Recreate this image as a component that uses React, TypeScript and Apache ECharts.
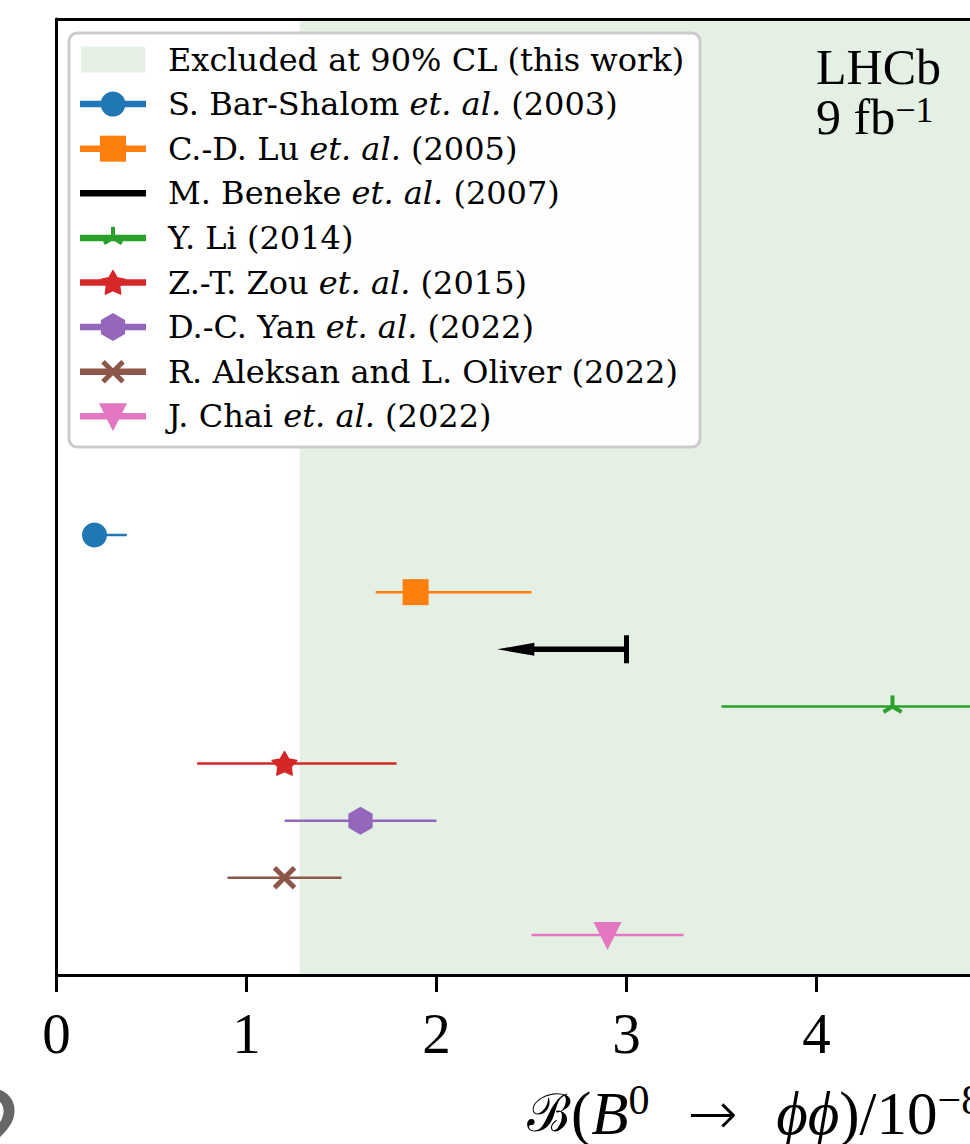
import React, { useEffect, useRef } from "react";
import * as echarts from "echarts";

// ---------- data ----------
const studyAuthors = [
  "S. Bar-Shalom",
  "C.-D. Lu",
  "M. Beneke",
  "Y. Li",
  "Z.-T. Zou",
  "D.-C. Yan",
  "R. Aleksan and L. Oliver",
  "J. Chai",
];
const studyEtAl = [true, true, true, false, true, true, false, true];
const studyYears = ["2003", "2005", "2007", "2014", "2015", "2022", "2022", "2022"];
// central value, lower edge, upper edge (units of 1e-8)
const centralValues = [0.2, 1.89, 3.0, 4.4, 1.2, 1.6, 1.2, 2.9];
const lowerEdges = [0.2, 1.68, 2.32, 3.5, 0.74, 1.2, 0.9, 2.5];
const upperEdges = [0.37, 2.5, 3.0, 5.3, 1.79, 2.0, 1.5, 3.3];
const isUpperLimit = [false, false, true, false, false, false, false, false];
const rowPositions = [8, 7, 6, 5, 4, 3, 2, 1];
const markerKinds = ["circle", "square", "none", "tri_up", "star", "hexagon", "x", "triangle_down"];
const studyColors = ["#1f77b4", "#ff7f0e", "#000000", "#2ca02c", "#d62728", "#9467bd", "#8c564b", "#e377c2"];

const excludedLabel = "Excluded at 90% CL (this work)";
const excludedFrom = 1.28;
const xMin = 0;
const xMax = 5;
const xInterval = 1;
const yMin = 0.3;
const yMax = 17.03;
const excludedColor = "#e4f0e3";

const studyNames = studyAuthors.map(
  (a, i) => `${a}${studyEtAl[i] ? " et. al." : ""} (${studyYears[i]})`
);
const studyRich = studyAuthors.map((a, i) =>
  studyEtAl[i] ? `{n|${a} }{i|et. al.}{n| (${studyYears[i]})}` : `{n|${a} (${studyYears[i]})}`
);

// ---------- helpers ----------
function markerShapes(kind: string, cx: number, cy: number, color: string, z = 0): any[] {
  const zz = z ? { z } : {};
  switch (kind) {
    case "circle":
      return [{ type: "circle", ...zz, shape: { cx, cy, r: 12.5 }, style: { fill: color } }];
    case "square":
      return [{ type: "rect", ...zz, shape: { x: cx - 13, y: cy - 13, width: 26, height: 26 }, style: { fill: color } }];
    case "hexagon": {
      const pts: number[][] = [];
      for (let k = 0; k < 6; k++) {
        const a = ((-90 + 60 * k) * Math.PI) / 180;
        pts.push([cx + 14 * Math.cos(a), cy + 14 * Math.sin(a)]);
      }
      return [{ type: "polygon", ...zz, shape: { points: pts }, style: { fill: color } }];
    }
    case "star": {
      const pts: number[][] = [];
      for (let k = 0; k < 10; k++) {
        const a = ((-90 + 36 * k) * Math.PI) / 180;
        const r = k % 2 === 0 ? 13 : 7;
        pts.push([cx + r * Math.cos(a), cy + 1 + r * Math.sin(a)]);
      }
      return [{ type: "polygon", ...zz, shape: { points: pts }, style: { fill: color, stroke: color, lineWidth: 1.5, lineJoin: "round" } }];
    }
    case "x":
      return [
        { type: "line", ...zz, shape: { x1: cx - 10, y1: cy - 10, x2: cx + 10, y2: cy + 10 }, style: { stroke: color, lineWidth: 5 } },
        { type: "line", ...zz, shape: { x1: cx - 10, y1: cy + 10, x2: cx + 10, y2: cy - 10 }, style: { stroke: color, lineWidth: 5 } },
      ];
    case "triangle_down":
      return [
        { type: "polygon", ...zz, shape: { points: [[cx - 14, cy - 13], [cx + 14, cy - 13], [cx, cy + 15]] }, style: { fill: color } },
      ];
    case "tri_up":
      return [
        { type: "line", ...zz, shape: { x1: cx, y1: cy, x2: cx, y2: cy - 11 }, style: { stroke: color, lineWidth: 4 } },
        { type: "line", ...zz, shape: { x1: cx, y1: cy, x2: cx - 9, y2: cy + 5.5 }, style: { stroke: color, lineWidth: 4 } },
        { type: "line", ...zz, shape: { x1: cx, y1: cy, x2: cx + 9, y2: cy + 5.5 }, style: { stroke: color, lineWidth: 4 } },
      ];
    default:
      return [];
  }
}

const serif = "Liberation Serif";
const legendFont = "DejaVu Serif";
const TOP = 100;

export default function App() {
  const ref = useRef<HTMLDivElement>(null);

  useEffect(() => {
    if (!ref.current) return;
    const chart = echarts.init(ref.current, null, { renderer: "svg" });

    const studySeries = studyNames.map((name, i) => ({
      type: "custom",
      name,
      z: 3,
      xAxisIndex: 0,
      yAxisIndex: 0,
      itemStyle: { color: studyColors[i] },
      encode: { x: [0, 1, 2], y: 3 },
      data: [[centralValues[i], lowerEdges[i], upperEdges[i], rowPositions[i]]],
      renderItem: (params: any, api: any) => {
        const yv = api.value(3);
        const pc = api.coord([api.value(0), yv]);
        const pl = api.coord([api.value(1), yv]);
        const ph = api.coord([api.value(2), yv]);
        const c = studyColors[i];
        const children: any[] = [];
        if (isUpperLimit[i]) {
          children.push({ type: "line", shape: { x1: pl[0] + 30, y1: pc[1], x2: ph[0], y2: pc[1] }, style: { stroke: c, lineWidth: 5.5 } });
          children.push({
            type: "polygon",
            shape: { points: [[pl[0], pc[1]], [pl[0] + 37, pc[1] - 6.5], [pl[0] + 37, pc[1] + 6.5]] },
            style: { fill: c },
          });
          children.push({ type: "line", shape: { x1: ph[0], y1: pc[1] - 14, x2: ph[0], y2: pc[1] + 14 }, style: { stroke: c, lineWidth: 5 } });
        } else {
          children.push({ type: "line", shape: { x1: pl[0], y1: pc[1], x2: ph[0], y2: pc[1] }, style: { stroke: c, lineWidth: 2.5 } });
          children.push(...markerShapes(markerKinds[i], pc[0], pc[1], c));
        }
        return { type: "group", children };
      },
    }));

    const excludedSeries = {
      type: "custom",
      name: excludedLabel,
      z: 1,
      itemStyle: { color: excludedColor },
      encode: { x: [0, 1] },
      data: [[excludedFrom, xMax]],
      renderItem: (params: any, api: any) => {
        const p0 = api.coord([api.value(0), yMax]);
        const p1 = api.coord([api.value(1), yMin]);
        return {
          type: "rect",
          shape: { x: p0[0], y: p0[1], width: p1[0] - p0[0], height: p1[1] - p0[1] },
          style: { fill: excludedColor },
        };
      },
    };

    // legend drawn as graphic (matplotlib-style handles)
    const legendChildren: any[] = [
      {
        type: "rect",
        z: TOP,
        shape: { x: 69, y: 33, width: 631, height: 414, r: 8 },
        style: { fill: "rgba(255,255,255,0.92)", stroke: "#cccccc", lineWidth: 3 },
      },
    ];
    const rowY = (k: number) => 59.5 + k * 44.6;
    const richStyles = {
      n: { fontFamily: legendFont, fontSize: 32, fill: "#000" },
      i: { fontFamily: legendFont, fontSize: 32, fontStyle: "italic", fill: "#000" },
    };
    legendChildren.push({
      type: "rect",
      z: TOP + 1,
      shape: { x: 81, y: rowY(0) - 13, width: 64, height: 26 },
      style: { fill: excludedColor },
    });
    legendChildren.push({
      type: "text",
      z: TOP + 1,
      x: 168,
      y: rowY(0),
      style: { text: `{n|${excludedLabel}}`, rich: richStyles, verticalAlign: "middle", align: "left" },
    });
    studyNames.forEach((_, i) => {
      const y = rowY(i + 1);
      const c = studyColors[i];
      legendChildren.push({ type: "line", z: TOP + 1, shape: { x1: 80, y1: y, x2: 146, y2: y }, style: { stroke: c, lineWidth: 6.5 } });
      legendChildren.push(...markerShapes(markerKinds[i], 113, y, c, TOP + 2));
      legendChildren.push({
        type: "text",
        z: TOP + 1,
        x: 168,
        y,
        style: { text: studyRich[i], rich: richStyles, verticalAlign: "middle", align: "left" },
      });
    });

    const option: any = {
      animation: false,
      backgroundColor: "#ffffff",
      grid: { left: 56.5, top: 19, width: 950, height: 956 },
      xAxis: [
        {
          type: "value",
          min: xMin,
          max: xMax,
          interval: xInterval,
          position: "bottom",
          z: 10,
          axisLine: { show: true, lineStyle: { color: "#000", width: 3 } },
          axisTick: { show: true, length: 17, lineStyle: { color: "#000", width: 3 } },
          axisLabel: { show: true, color: "#000", fontFamily: serif, fontSize: 57, margin: 30 },
          splitLine: { show: false },
        },
        {
          type: "value",
          min: xMin,
          max: xMax,
          position: "top",
          z: 10,
          axisLine: { show: true, onZero: false, lineStyle: { color: "#000", width: 3 } },
          axisTick: { show: false },
          axisLabel: { show: false },
          splitLine: { show: false },
        },
      ],
      yAxis: {
        type: "value",
        min: yMin,
        max: yMax,
        z: 10,
        axisLine: { show: true, onZero: false, lineStyle: { color: "#000", width: 3 } },
        axisTick: { show: false },
        axisLabel: { show: false },
        splitLine: { show: false },
      },
      series: [excludedSeries, ...studySeries],
      graphic: [
        { type: "group", z: TOP, children: legendChildren },
        {
          type: "text",
          z: TOP,
          x: 816,
          y: 42,
          style: {
            text: "{n|LHCb}\n{n|9 }{n|fb}{s|−1}",
            rich: {
              n: { fontFamily: serif, fontSize: 50, lineHeight: 50, fill: "#000" },
              s: { fontFamily: serif, fontSize: 36, lineHeight: 18, fill: "#000", verticalAlign: "top" },
            },
            align: "left",
            verticalAlign: "top",
          },
        },
        {
          type: "text",
          z: TOP,
          x: 527,
          y: 1113,
          style: {
            text: "{c|ℬ}{n|(}{i|B}{s|0}{a|  →  }{i|ϕϕ}{n|)/10}{s|−8}",
            rich: {
              c: { fontFamily: "DejaVu Serif", fontSize: 52, fill: "#000", lineHeight: 68 },
              n: { fontFamily: serif, fontSize: 61, fill: "#000", lineHeight: 68 },
              a: { fontFamily: "DejaVu Sans", fontSize: 60, fontWeight: 200, fill: "#000", lineHeight: 68 },
              i: { fontFamily: serif, fontSize: 61, fontStyle: "italic", fill: "#000", lineHeight: 68 },
              s: { fontFamily: serif, fontSize: 42, fill: "#000", lineHeight: 44, verticalAlign: "top" },
            },
            align: "left",
            verticalAlign: "middle",
          },
        },
        {
          type: "text",
          z: TOP,
          x: -44,
          y: 1132,
          style: {
            text: "2",
            fontFamily: "DejaVu Sans",
            fontSize: 110,
            fill: "#666666",
            align: "left",
            verticalAlign: "middle",
          },
        },
      ],
    };

    chart.setOption(option);
    return () => chart.dispose();
  }, []);

  return (
    <div style={{ position: "fixed", left: 0, top: 0, width: 970, height: 1144, overflow: "hidden", background: "#fff" }}>
      <div ref={ref} style={{ width: 1060, height: 1144 }} />
    </div>
  );
}
